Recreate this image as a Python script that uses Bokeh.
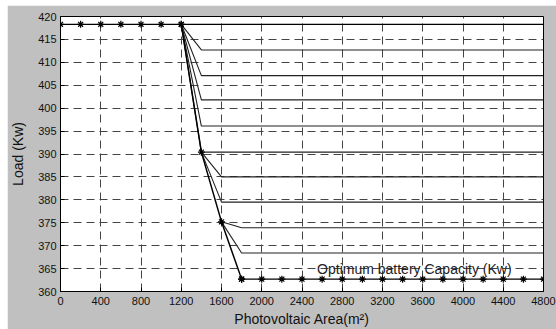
from bokeh.plotting import figure
from bokeh.models import FixedTicker, ColumnDataSource, Label
from bokeh.embed import file_html
from bokeh.resources import INLINE

# ---- data ----
x_ticks = [0, 400, 800, 1200, 1600, 2000, 2400, 2800, 3200, 3600, 4000, 4400, 4800]
y_ticks = [360, 365, 370, 375, 380, 385, 390, 395, 400, 405, 410, 415, 420]

top_star_x = [0, 200, 400, 600, 800, 1000, 1200]
top_load = 418.3

main_x = [1200, 1400, 1600, 1800]
main_y = [418.3, 390.4, 375.2, 362.7]

bottom_star_x = [1800, 2000, 2200, 2400, 2600, 2800, 3000, 3200, 3400,
                 3600, 3800, 4000, 4200, 4400, 4600, 4800]
bottom_load = 362.7

fan_start_x = [1200, 1200, 1200, 1200, 1200, 1400, 1400, 1600, 1600]
fan_start_y = [418.3, 418.3, 418.3, 418.3, 418.3, 390.4, 390.4, 375.2, 375.2]
fan_knee_x = [1400, 1400, 1400, 1400, 1400, 1600, 1600, 1800, 1800]
fan_level = [412.7, 407.1, 401.8, 396.1, 390.4, 385.0, 379.5, 373.9, 368.4]
area_end = 4800

FONT = "Liberation Sans"

p = figure(width=549, height=324, x_range=(0, 4800), y_range=(360, 420),
           output_backend="svg", toolbar_location=None, margin=(5, 0, 0, 7),
           min_border_left=51, min_border_right=13, min_border_top=11,
           min_border_bottom=38, border_fill_color="#c0c0c0",
           background_fill_color="white", outline_line_color="black",
           outline_line_width=1)

# fan lines
xs = [[sx, kx, area_end] for sx, kx in zip(fan_start_x, fan_knee_x)]
ys = [[sy, lv, lv] for sy, lv in zip(fan_start_y, fan_level)]
p.multi_line(xs=xs, ys=ys, line_color="#222222", line_width=1.1)

# top flat line
p.line(x=[top_star_x[0], area_end], y=[top_load, top_load], line_color="black", line_width=1.2)
p.scatter(x=top_star_x, y=[top_load] * len(top_star_x), marker="asterisk",
          size=7, line_color="black", line_width=1.2)

# main optimum path
p.line(x=main_x, y=main_y, line_color="black", line_width=1.5)
p.scatter(x=main_x, y=main_y, marker="asterisk", size=7, line_color="black", line_width=1.2)

# bottom line
p.line(x=[bottom_star_x[0], bottom_star_x[-1]], y=[bottom_load, bottom_load],
       line_color="black", line_width=1.2)
p.scatter(x=bottom_star_x, y=[bottom_load] * len(bottom_star_x), marker="asterisk",
          size=7, line_color="black", line_width=1.2)

p.add_layout(Label(x=2550, y=365, text="Optimum battery Capacity (Kw)",
                   text_font=FONT, text_font_size="14px", text_baseline="middle",
                   text_color="#222222"))

for ax, ticks in ((p.xaxis, x_ticks), (p.yaxis, y_ticks)):
    ax.ticker = FixedTicker(ticks=ticks)
    ax.major_tick_in = 4
    ax.major_tick_out = 0
    ax.minor_tick_line_color = None
    ax.axis_line_color = "black"
    ax.major_tick_line_color = "black"
    ax.major_label_text_font = FONT
    ax.major_label_text_font_size = "11px"
    ax.major_label_text_color = "#111111"
    ax.axis_label_text_font = FONT
    ax.axis_label_text_font_size = "14px"
    ax.axis_label_text_font_style = "normal"
    ax.axis_label_text_color = "#111111"

p.xaxis.axis_label = "Photovoltaic Area(m\u00b2)"
p.yaxis.axis_label = "Load (Kw)"
p.xaxis.major_label_standoff = 5
p.xaxis.axis_label_standoff = 3
p.yaxis.major_label_standoff = 4
p.yaxis.axis_label_standoff = 9

for g in (p.xgrid, p.ygrid):
    g.grid_line_color = "#444444"
    g.grid_line_dash = "8 5"
    g.grid_line_width = 1

open("out.html", "w").write(file_html(p, INLINE))
